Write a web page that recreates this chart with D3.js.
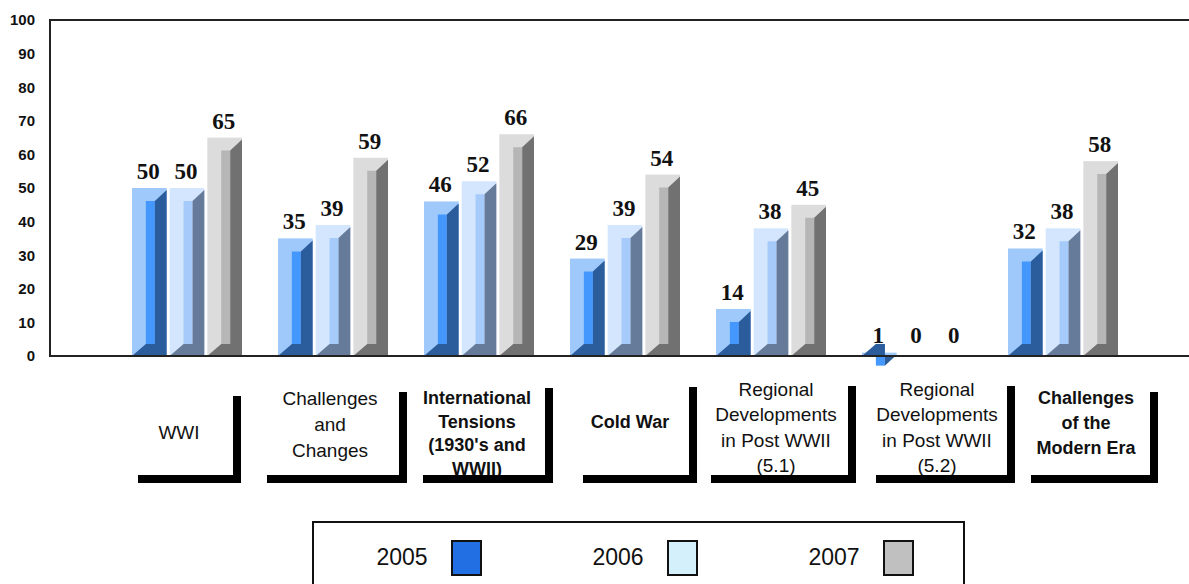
<!DOCTYPE html>
<meta charset="utf-8">
<script src="https://d3js.org/d3.v7.min.js"></script>
<style>
  body { margin: 0; background: white; }
  svg { display: block; }
</style>
<div id="chart"></div>
<script>

  // data
  const categories = ["WWI", "Challenges and Changes", "International Tensions (1930's and WWII)",
    "Cold War", "Regional Developments in Post WWII (5.1)", "Regional Developments in Post WWII (5.2)",
    "Challenges of the Modern Era"];
  const labelLines = [
    ["WWI"],
    ["Challenges", "and", "Changes"],
    ["International", "Tensions", "(1930's and", "WWII)"],
    ["Cold War"],
    ["Regional", "Developments", "in Post WWII", "(5.1)"],
    ["Regional", "Developments", "in Post WWII", "(5.2)"],
    ["Challenges", "of the", "Modern Era"]
  ];
  const years = ["2005", "2006", "2007"];
  const values2005 = [50, 35, 46, 29, 14, 1, 32];
  const values2006 = [50, 39, 52, 39, 38, 0, 38];
  const values2007 = [65, 59, 66, 54, 45, 0, 58];
  const yTicks = [0, 10, 20, 30, 40, 50, 60, 70, 80, 90, 100];

  // styling
  const colors = {
    "2005": {light: "#9fc9fb", mid: "#4497fc", dark: "#2b5c9b", key: "#216fe2"},
    "2006": {light: "#d3e6fd", mid: "#a6cbfb", dark: "#667b9a", key: "#d4f1fb"},
    "2007": {light: "#dcdcdc", mid: "#b6b6b6", dark: "#717171", key: "#c0c0c0"}
  };
  // label box layout, offsets from the band centre
  const boxes = [
    {l: -48, r: 55, top: 396, dx: -7, y0: 432, gap: 0, bold: false},
    {l: -65, r: 75, top: 392, dx: -2, y0: 398, gap: 26, bold: false},
    {l: -55, r: 75, top: 388, dx: -1, y0: 398, gap: 23.5, bold: true},
    {l: -41, r: 73, top: 387, dx: 6, y0: 422, gap: 0, bold: true},
    {l: -59, r: 86, top: 386, dx: 6, y0: 389, gap: 25.5, bold: false},
    {l: -40, r: 99, top: 386, dx: 21, y0: 389, gap: 25.5, bold: false},
    {l: -31, r: 96, top: 392, dx: 24, y0: 398, gap: 25, bold: true}
  ];

  const W = 1189, H = 584;
  const svg = d3.select("#chart").append("svg")
    .attr("width", W).attr("height", H);

  const series = [values2005, values2006, values2007];
  const rows = [];
  categories.forEach((c, i) => {
    years.forEach((yr, j) => rows.push({cat: c, year: yr, value: series[j][i]}));
  });

  // scales
  const x0 = d3.scaleBand().domain(categories).range([113, 1135]).padding(0);
  const x1 = d3.scaleBand().domain(years).range([-54, 56]).paddingInner(0.08);
  const y = d3.scaleLinear().domain([0, 100]).range([356, 20]);
  const cx = c => x0(c) + x0.bandwidth() / 2;

  // frame
  svg.append("line").attr("x1", 50).attr("x2", W).attr("y1", y(100)).attr("y2", y(100))
    .attr("stroke", "#222").attr("stroke-width", 2);
  svg.append("line").attr("x1", 50).attr("x2", 50).attr("y1", y(100) - 1).attr("y2", y(0) + 1)
    .attr("stroke", "#222").attr("stroke-width", 2);

  // y axis labels
  const yAxis = svg.append("g")
    .attr("transform", "translate(35,0)")
    .call(d3.axisLeft(y).tickValues(yTicks).tickSize(0).tickPadding(0).tickFormat(d3.format("d")));
  yAxis.select(".domain").remove();
  yAxis.selectAll("text")
    .attr("font-family", "'Liberation Sans', Arial, sans-serif")
    .attr("font-size", 15).attr("font-weight", "bold").attr("fill", "#111");

  // bars (bevelled look)
  const bw = x1.bandwidth();
  const bars = svg.append("g").selectAll("g")
    .data(rows.filter(d => d.value > 0))
    .join("g");

  bars.append("rect")
    .attr("x", d => cx(d.cat) + x1(d.year))
    .attr("y", d => y(d.value))
    .attr("width", bw)
    .attr("height", d => y(0) - y(d.value))
    .attr("fill", d => colors[d.year].light);

  bars.append("polygon")
    .attr("fill", d => colors[d.year].mid)
    .attr("points", d => {
      const xa = cx(d.cat) + x1(d.year), t = y(d.value), b = y(0);
      return [[xa + bw * 0.4, t + 13], [xa + bw * 0.66, t + 13],
              [xa + bw * 0.66, b - 12], [xa + bw * 0.4, b - 12]].join(" ");
    });

  bars.append("polygon")
    .attr("fill", d => colors[d.year].dark)
    .attr("points", d => {
      const xa = cx(d.cat) + x1(d.year), t = y(d.value), b = y(0);
      return [[xa, b], [xa + bw * 0.4, b - 12], [xa + bw * 0.66, b - 12],
              [xa + bw * 0.66, t + 13], [xa + bw, t + 2], [xa + bw, b]].join(" ");
    });

  // x axis line
  svg.append("line").attr("x1", 50).attr("x2", W).attr("y1", y(0)).attr("y2", y(0))
    .attr("stroke", "#222").attr("stroke-width", 2);

  // value labels
  svg.append("g").selectAll("text")
    .data(rows)
    .join("text")
    .attr("x", d => cx(d.cat) + x1(d.year) + bw / 2 - 1)
    .attr("y", d => Math.min(y(d.value) - 9, y(0) - 13))
    .attr("text-anchor", "middle")
    .attr("font-family", "'Liberation Serif', 'Times New Roman', serif")
    .attr("font-size", 23).attr("font-weight", "bold")
    .attr("fill", "#111")
    .text(d => d.value);

  // category label boxes
  const labels = svg.append("g").selectAll("g")
    .data(categories)
    .join("g")
    .attr("transform", d => `translate(${cx(d)},0)`);

  labels.each(function(c, i) {
    const g = d3.select(this), b = boxes[i];
    g.selectAll("text")
      .data(labelLines[i])
      .join("text")
      .attr("x", b.dx)
      .attr("y", (t, k) => b.y0 + k * b.gap)
      .attr("dy", "0.36em")
      .attr("text-anchor", "middle")
      .attr("font-family", "'Liberation Sans', Arial, sans-serif")
      .attr("font-size", b.bold ? 18 : 19)
      .attr("font-weight", b.bold ? "bold" : "normal")
      .attr("fill", "#111")
      .text(t => t);
    g.append("rect").attr("x", b.l).attr("y", 475).attr("width", b.r - b.l).attr("height", 8).attr("fill", "#000");
    g.append("rect").attr("x", b.r - 8).attr("y", b.top).attr("width", 8).attr("height", 483 - b.top).attr("fill", "#000");
  });

  // legend
  svg.append("rect").attr("x", 313).attr("y", 522).attr("width", 651).attr("height", 80)
    .attr("fill", "white").attr("stroke", "#111").attr("stroke-width", 2);
  const lx = d3.scalePoint().domain(years).range([402, 834]);
  const leg = svg.append("g").selectAll("g")
    .data(years)
    .join("g")
    .attr("transform", d => `translate(${lx(d)},557)`);
  leg.append("text")
    .attr("text-anchor", "middle").attr("dy", "0.36em")
    .attr("font-family", "'Liberation Sans', Arial, sans-serif")
    .attr("font-size", 23).attr("fill", "#111")
    .text(d => d);
  leg.append("rect")
    .attr("x", 50).attr("y", -16).attr("width", 29).attr("height", 34)
    .attr("fill", d => colors[d].key).attr("stroke", "#111").attr("stroke-width", 2);

</script>
